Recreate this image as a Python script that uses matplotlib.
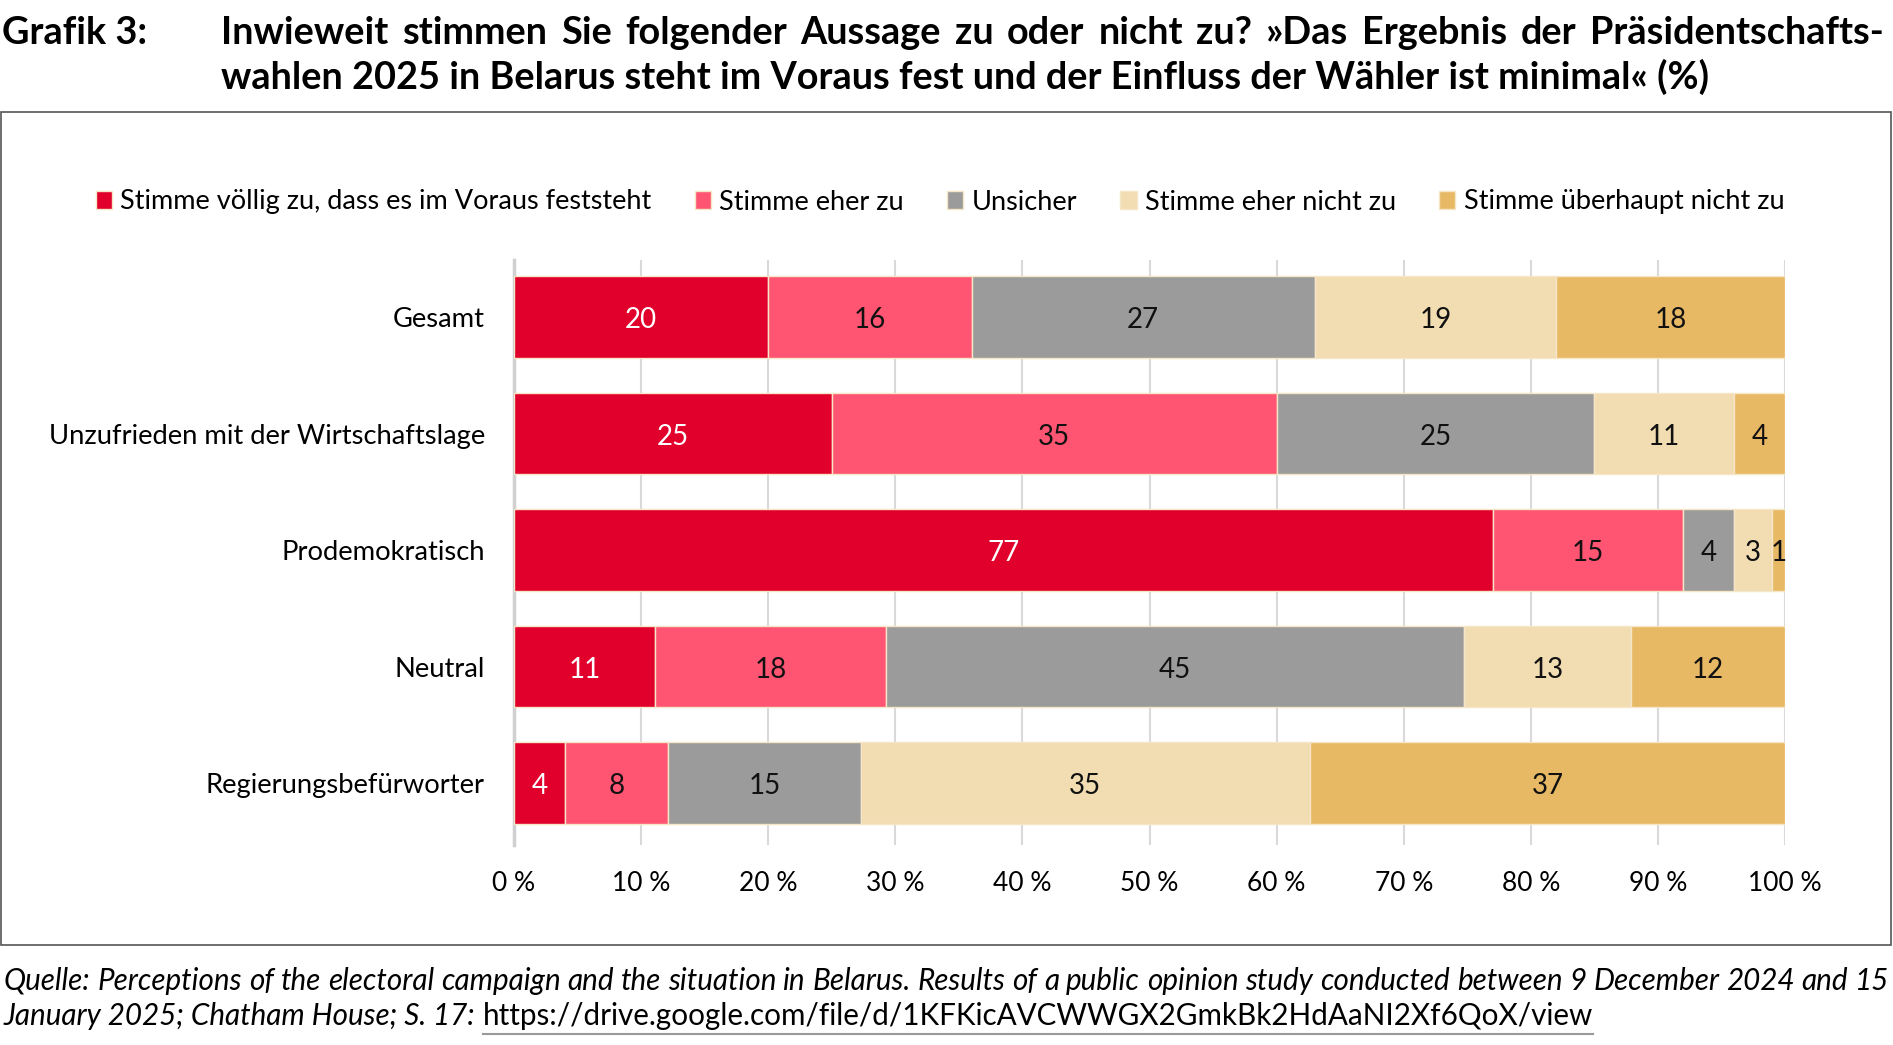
import matplotlib.pyplot as plt
import numpy as np
from matplotlib.patches import Patch, Rectangle
from matplotlib.lines import Line2D

plt.rcParams['font.family'] = ['Lato', 'DejaVu Sans']

categories = ['Gesamt', 'Unzufrieden mit der Wirtschaftslage', 'Prodemokratisch',
              'Neutral', 'Regierungsbefürworter']
series = ['Stimme völlig zu, dass es im Voraus feststeht', 'Stimme eher zu', 'Unsicher',
          'Stimme eher nicht zu', 'Stimme überhaupt nicht zu']
values = {
    'Stimme völlig zu, dass es im Voraus feststeht': [20, 25, 77, 11, 4],
    'Stimme eher zu': [16, 35, 15, 18, 8],
    'Unsicher': [27, 25, 4, 45, 15],
    'Stimme eher nicht zu': [19, 11, 3, 13, 35],
    'Stimme überhaupt nicht zu': [18, 4, 1, 12, 37],
}
colors = ['#E1002B', '#FF5573', '#9B9B9B', '#F2DCB2', '#E8B964']
label_colors = ['white', '#111111', '#111111', '#111111', '#111111']
xticks = [0, 10, 20, 30, 40, 50, 60, 70, 80, 90, 100]

title_1 = 'Inwieweit stimmen Sie folgender Aussage zu oder nicht zu? »Das Ergebnis der Präsidentschafts-'
title_2 = 'wahlen 2025 in Belarus steht im Voraus fest und der Einfluss der Wähler ist minimal« (%)'
source_1 = ('Quelle: Perceptions of the electoral campaign and the situation in Belarus. Results of a '
            'public opinion study conducted between 9 December 2024 and 15')
source_2 = 'January 2025; Chatham House; S. 17: '
url = 'https://drive.google.com/file/d/1KFKicAVCWWGX2GmkBk2HdAaNI2Xf6QoX/view'

W, H = 1893, 1045
fig = plt.figure(figsize=(W / 100, H / 100), dpi=100)
renderer = fig.canvas.get_renderer()


def px(x, y):
    return x / W, 1 - y / H


def justify(text, x0, x1, y, **kw):
    words = text.split(' ')
    objs = [fig.text(0, 0, w, va='center', ha='left', **kw) for w in words]
    widths = [o.get_window_extent(renderer).width for o in objs]
    gap = (x1 - x0 - sum(widths)) / (len(words) - 1)
    x = x0
    for o, w in zip(objs, widths):
        o.set_position(px(x, y))
        x += w + gap


# frame
fig.patches.append(Rectangle(px(1, 945), (W - 3) / W, (945 - 112) / H, transform=fig.transFigure,
                             fill=False, edgecolor='#555555', linewidth=1.2))

# title
fig.text(*px(2, 33), 'Grafik 3:', fontsize=27.3, fontweight='bold', va='center', ha='left')
justify(title_1, 221, 1884, 33, fontsize=27.3, fontweight='bold')
fig.text(*px(221, 77), title_2, fontsize=27.3, fontweight='bold', va='center', ha='left')

# chart
ax = fig.add_axes([514 / W, 1 - 845 / H, (1785 - 514) / W, (845 - 260) / H])
vals = np.array([values[s] for s in series], dtype=float)
shares = vals / vals.sum(axis=0) * 100
y = np.arange(len(categories))
left = np.zeros(len(categories))
for i, s in enumerate(series):
    bars = ax.barh(y, shares[i], left=left, height=0.70, color=colors[i],
                   edgecolor='#F5E6C8', linewidth=1, label=s, zorder=3)
    for j, b in enumerate(bars):
        ax.text(left[j] + shares[i][j] / 2, y[j] + 0.025, f'{int(vals[i][j])}', ha='center',
                va='center', fontsize=20, color=label_colors[i], zorder=4)
    left += shares[i]

ax.set_xlim(0, 100)
ax.set_ylim(4.53, -0.49)
ax.set_yticks(y)
ax.set_yticklabels(categories, fontsize=19.7)
ax.set_xticks(xticks)
ax.set_xticklabels([f'{t} %' for t in xticks], fontsize=19)
ax.tick_params(axis='both', length=0)
ax.tick_params(axis='y', pad=21)
ax.tick_params(axis='x', pad=19)
ax.grid(axis='x', color='#D9D9D9', linewidth=1.5, zorder=0)
for sp in ['top', 'right', 'bottom']:
    ax.spines[sp].set_visible(False)
ax.spines['left'].set_color('#D0D0D0')
ax.spines['left'].set_linewidth(2.5)

handles = [Patch(facecolor=c, edgecolor='#F5E6C8', label=s) for s, c in zip(series, colors)]
fig.legend(handles=handles, loc='center', bbox_to_anchor=px(940, 202), ncol=5, frameon=False,
           fontsize=19.5, handlelength=0.6, handleheight=0.6, handletextpad=0.3, columnspacing=1.6)

# source
justify(source_1, 4, 1889, 981, fontsize=21.3, fontstyle='italic')
t2 = fig.text(*px(4, 1016), source_2, fontsize=21.3, fontstyle='italic', va='center', ha='left')
w2 = t2.get_window_extent(renderer).width
t3 = fig.text(*px(4 + w2, 1016), url, fontsize=21.3, va='center', ha='left')
w3 = t3.get_window_extent(renderer).width
fig.lines.append(Line2D([(4 + w2) / W, (4 + w2 + w3) / W], [1 - 1034 / H] * 2,
                        transform=fig.transFigure, color='#999999', linewidth=1.5))

fig.savefig('out.png', dpi=100)
